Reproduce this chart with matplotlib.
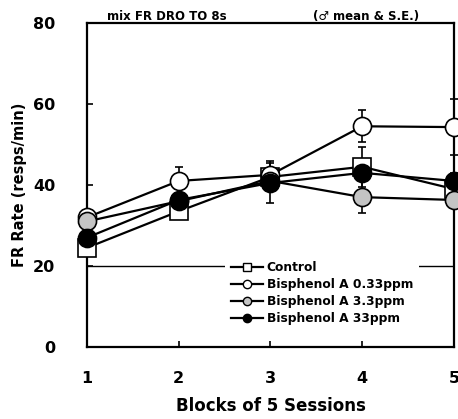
import matplotlib
matplotlib.use("Agg")
import matplotlib.pyplot as plt
from matplotlib.lines import Line2D

# data
blocks = [1, 2, 3, 4, 5]
groups = ["Control", "Bisphenol A 0.33ppm", "Bisphenol A 3.3ppm", "Bisphenol A 33ppm"]
control = [24.5, 33.5, 42.0, 44.5, 39.0]
bpa_033 = [32.0, 41.0, 42.5, 54.5, 54.3]
bpa_33 = [31.0, 36.0, 41.0, 37.0, 36.3]
bpa_330 = [27.0, 36.3, 40.5, 43.0, 41.0]
# standard errors
se_control = [1.5, 1.5, 2.0, 5.0, 2.0]
se_033 = [1.5, 3.5, 3.5, 4.0, 7.0]
se_33 = [1.5, 1.5, 2.0, 4.0, 2.0]
se_330 = [1.5, 1.5, 5.0, 2.0, 2.0]

plt.rcParams['font.family'] = ['DejaVu Sans']
plt.rcParams['font.weight'] = 'bold'

fig = plt.figure(figsize=(4.58, 4.19), dpi=100)
ax = fig.add_axes([0.190, 0.172, 0.801, 0.773])

series = [
    (control, se_control, dict(marker='s', mfc='white')),
    (bpa_033, se_033, dict(marker='o', mfc='white')),
    (bpa_33, se_33, dict(marker='o', mfc='#c4c4c4')),
    (bpa_330, se_330, dict(marker='o', mfc='black')),
]

ax.axhline(20, color='black', lw=1.0, zorder=1)

for vals, se, st in series:
    ax.errorbar(blocks, vals, yerr=se, color='black', lw=1.6, ms=13,
                mec='black', mew=1.2, capsize=3, elinewidth=1.2,
                clip_on=False, zorder=3, **st)

ax.set_xlim(1, 5)
ax.set_ylim(0, 80)
ax.set_xticks(blocks)
ax.set_yticks([0, 20, 40, 60, 80])
ax.tick_params(direction='in', length=4, width=1.2, labelsize=11.5)
ax.tick_params(axis='x', pad=17)
ax.tick_params(axis='y', pad=23)
for s in ax.spines.values():
    s.set_linewidth(1.6)

ax.set_xlabel("Blocks of 5 Sessions", fontsize=12, fontweight='bold', labelpad=8)
ax.set_ylabel("FR Rate (resps/min)", fontsize=10.5, fontweight='bold', labelpad=4)

ax.text(0.055, 1.0, "mix FR DRO TO 8s", transform=ax.transAxes,
        fontsize=8.5, fontweight='bold', va='bottom')
ax.text(0.615, 1.0, "(\u2642 mean & S.E.)", transform=ax.transAxes,
        fontsize=8.5, fontweight='bold', va='bottom')

handles = [Line2D([], [], color='black', lw=1.6, ms=6, mec='black', **st)
           for _, _, st in series]
leg = ax.legend(handles, groups, loc='lower left', bbox_to_anchor=(0.36, 0.03),
                frameon=True, fontsize=8.8, handlelength=2.6, handletextpad=0.3,
                labelspacing=0.32, borderpad=0.5)
leg.get_frame().set_edgecolor('none')
leg.get_frame().set_facecolor('white')
leg.get_frame().set_alpha(1)
leg.set_zorder(5)

fig.savefig("out.png", dpi=100)
